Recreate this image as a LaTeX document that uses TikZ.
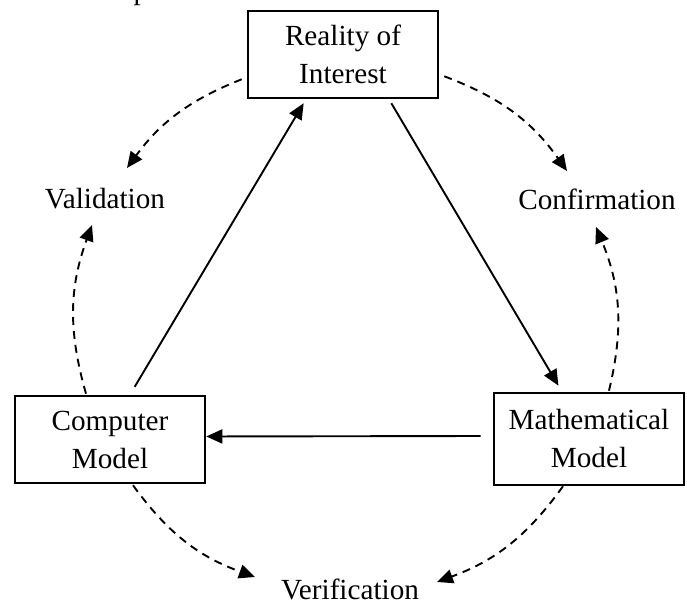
\documentclass[tikz,border=0pt]{standalone}
\usepackage{fontspec}
\setmainfont{Liberation Serif}
\usetikzlibrary{arrows.meta,calc}
\begin{document}
\begin{tikzpicture}[x=0.5pt, y=0.5pt,
	font=\fontsize{14.6}{19}\selectfont,
	box/.style={draw, line width=1.3pt, align=center,
		minimum width=95pt, inner sep=0pt},
	tag/.style={inner sep=0pt},
	flow/.style={-{Triangle[length=8pt,width=7pt]}, line width=0.95pt},
	check/.style={flow, dash pattern=on 4pt off 3pt}]
\useasboundingbox (0,0) rectangle (687,603);
\node[anchor=base, inner sep=0pt] (cut) at (141,603) {p};
\foreach \nm/\x/\y/\h/\t in {
	reality/343/548.5/43.5/{Reality of\\Interest},
	computer/110/163.5/43.5/{Computer\\Model},
	math/589/164/46/{Mathematical\\Model}}
	\node[box, minimum height=\h pt] (\nm) at (\x,\y) {\t};
\foreach \nm/\x/\y/\t in {valid/105/404/Validation,
	confirm/597/404/Confirmation, verif/350/14/Verification}
	\node[tag] (\nm) at (\x,\y) {\t};
\draw[flow, shorten <=4.6pt, shorten >=2.3pt]
	($(computer.north)+(20,0)$) -- ($(reality.south)+(-37,0)$);
\draw[flow, shorten <=2.3pt, shorten >=3.5pt]
	($(reality.south)+(46,0)$) -- ($(math.north)+(-27,0)$);
\draw[flow, shorten <=6pt]
	($(math.west)+(0,3)$) -- ($(computer.east)+(0,3)$);
\draw[check] ($(reality.south west)+(-5,20)$)
	to[bend right=16] ($(valid)+(22,31)$);
\draw[check] ($(computer.north)+(-24,1)$)
	to[bend left=18] ($(valid)+(-13,-26)$);
\draw[check] ($(reality.south east)+(5,23)$)
	to[bend left=17] ($(confirm)+(-30,28)$);
\draw[check] ($(math.north)+(20,1)$)
	to[bend right=18] ($(confirm)+(-1,-28)$);
\draw[check] ($(computer.south)+(23,-1)$)
	to[bend right=17] ($(verif)+(-95,12)$);
\draw[check] ($(math.south)+(-26,0)$)
	to[bend left=17] ($(verif)+(87,7)$);
\end{tikzpicture}
\end{document}
